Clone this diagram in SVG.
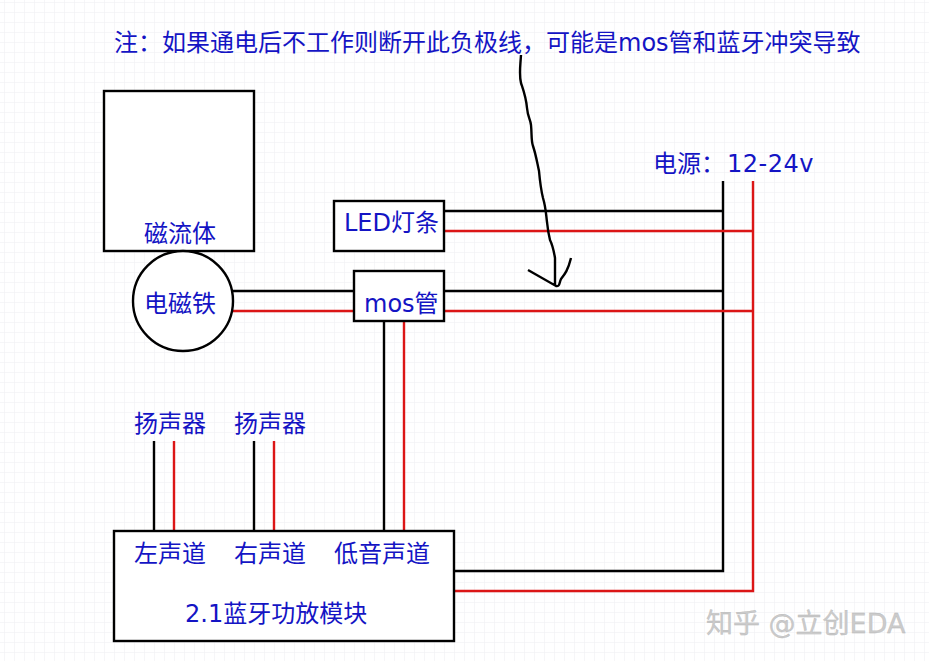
<svg xmlns="http://www.w3.org/2000/svg" width="929" height="661" viewBox="0 0 929 661">
<style>
text{font-family:"DejaVu Sans","Noto Sans CJK SC",sans-serif;font-size:24px;fill:#1414c4}
.n{fill:#fff;stroke:#000;stroke-width:2.4}
.k{fill:none;stroke:#000;stroke-width:2.4}
.r{fill:none;stroke:#dc1616;stroke-width:2.4}
.m{font-size:27px;fill:#cbcbcb;stroke:#b4b4b4;stroke-width:.3}
</style>
<defs><pattern id="g" width="10" height="10" patternUnits="userSpaceOnUse" x="4" y="2"><path d="M10 0H0V10" fill="none" stroke="#eeeef1" stroke-width="1"/></pattern></defs>
<rect width="929" height="661" fill="#fff"/>
<rect width="929" height="661" fill="url(#g)"/>
<g id="connectors">
<path class="k" d="M723 181V571H454M444 211H723M444 291H723M233 291H354M384 321V531M154 441V531M254 441V531"/>
<path class="r" d="M753 181V591H454M444 231H753M444 311H753M233 311H354M404 321V531M174 441V531M274 441V531"/>
<path class="k" d="M521 55C520 70 519 75 521 83C524 92 526 97 527 108C528 118 530 118 531 125C532 135 531 140 533 146C536 155 537 162 539 171C540 182 541 190 543 198C546 208 546 215 547 222C548 232 549 236 550 240C553 246 554 252 555 258V285M528 270L556 286C560 287 559 283 561 279C565 274 568 270 571 258"/>
</g>
<g id="note"><text x="114" y="51">注：如果通电后不工作则断开此负极线，可能是mos管和蓝牙冲突导致</text></g>
<g id="power"><text x="653" y="172">电源：<tspan x="727" letter-spacing=".5">12-24v</tspan></text></g>
<g id="ferrofluid"><rect class="n" x="104" y="91" width="150" height="160"/><text x="144" y="242">磁流体</text></g>
<g id="electromagnet"><circle class="n" cx="183" cy="301" r="50"/><text x="144" y="312">电磁铁</text></g>
<g id="led"><rect class="n" x="334" y="201" width="110" height="50"/><text x="344" y="231">LED灯条</text></g>
<g id="mos"><rect class="n" x="354" y="271" width="90" height="50"/><text x="364" y="312">mos管</text></g>
<g id="speaker1"><text x="134" y="432">扬声器</text></g>
<g id="speaker2"><text x="234" y="432">扬声器</text></g>
<g id="amp"><rect class="n" x="114" y="531" width="340" height="110"/>
<text x="134" y="562">左声道</text><text x="234" y="562">右声道</text><text x="334" y="562">低音声道</text><text x="185" y="622">2.1蓝牙功放模块</text></g>
<g id="watermark"><text class="m" x="706" y="633">知乎 @立创EDA</text></g>
</svg>
